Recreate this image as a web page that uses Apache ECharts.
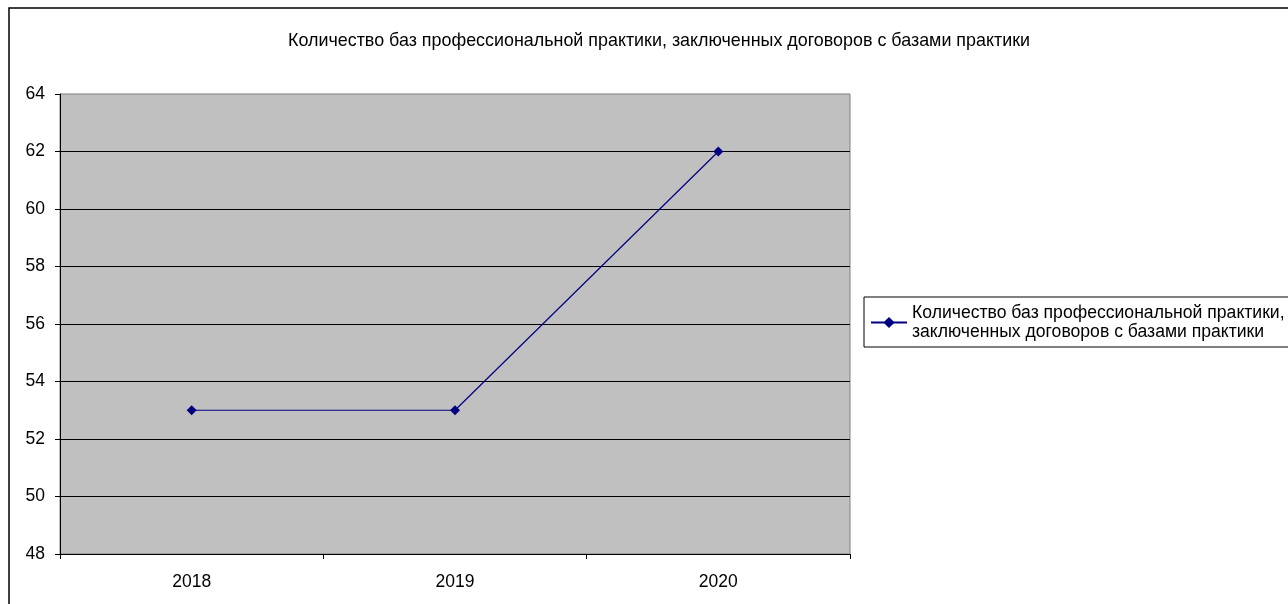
<!DOCTYPE html>
<html><head><meta charset="utf-8">
<script src="https://cdn.jsdelivr.net/npm/echarts@6/dist/echarts.min.js"></script>
<style>html,body{margin:0;padding:0;background:#fff}#c{width:1288px;height:604px}</style>
</head><body><div id="c"></div>
<script>
const categories = ['2018', '2019', '2020'];
const values = [53, 53, 62];
const seriesName = 'Количество баз профессиональной практики, заключенных договоров с базами практики';
const titleText = 'Количество баз профессиональной практики, заключенных договоров с базами практики';
const legendText = 'Количество баз профессиональной практики,\nзаключенных договоров с базами практики';

const chart = echarts.init(document.getElementById('c'));
const font = 'Arial, "Liberation Sans", sans-serif';
chart.setOption({
  animation: false,
  backgroundColor: '#fff',
  textStyle: { fontFamily: font },
  title: {
    text: titleText, left: 654, top: 27, textAlign: 'center',
    textStyle: { fontSize: 17.9, fontWeight: 'normal', color: '#000', fontFamily: font }
  },
  graphic: [
    { type: 'rect', shape: { x: 9, y: 8, width: 1400, height: 700 }, style: { fill: 'none', stroke: '#000', lineWidth: 1.5 }, z: 100 }
  ],
  grid: { left: 60, top: 94, width: 790, height: 460, show: true, backgroundColor: '#C0C0C0', borderColor: '#808080', borderWidth: 1 },
  legend: {
    left: 864, top: 297, orient: 'vertical',
    borderColor: '#000', borderWidth: 1, padding: [6, 20, 5, 6],
    itemWidth: 36, itemHeight: 14, itemGap: 0,
    formatter: () => legendText,
    textStyle: { fontSize: 17.6, color: '#000', lineHeight: 19.5, fontFamily: font },
    data: [{ name: seriesName }]
  },
  xAxis: {
    type: 'category', data: categories, boundaryGap: true,
    axisLine: { lineStyle: { color: '#000', width: 1 } },
    axisTick: { show: true, length: 5, lineStyle: { color: '#000' } },
    axisLabel: { fontSize: 17.5, color: '#000', margin: 19, fontFamily: font },
    splitLine: { show: false }
  },
  yAxis: {
    type: 'value', min: 48, max: 64, interval: 2,
    axisLine: { show: true, lineStyle: { color: '#000', width: 1 } },
    axisTick: { show: true, length: 5, lineStyle: { color: '#000' } },
    axisLabel: { fontSize: 17.5, color: '#000', margin: 15, fontFamily: font },
    splitLine: { show: true, showMaxLine: false, lineStyle: { color: '#000', width: 1 } }
  },
  series: [{
    name: seriesName, type: 'line', data: values,
    symbol: 'diamond', symbolSize: 10,
    lineStyle: { color: '#000080', width: 1.2 },
    itemStyle: { color: '#000080' }
  }]
});
</script></body></html>
